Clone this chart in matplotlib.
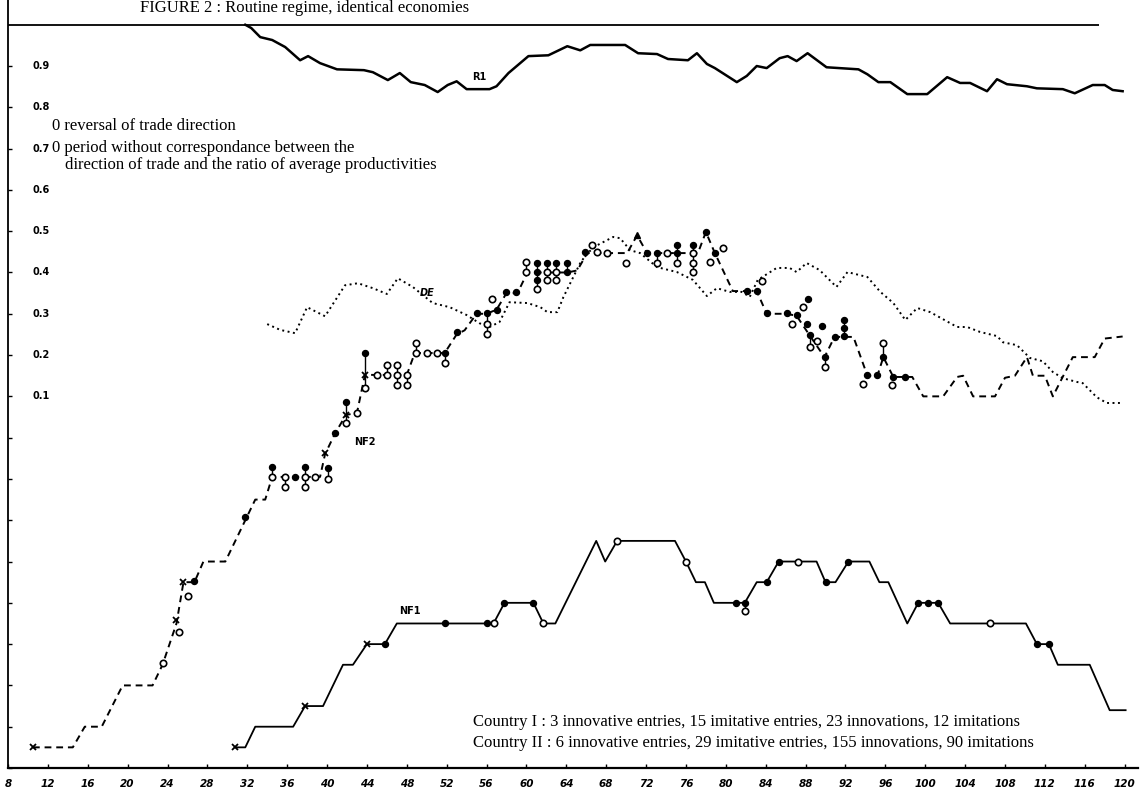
import matplotlib.pyplot as plt

plt.rcParams["font.family"] = ["Liberation Serif", "DejaVu Serif"]

# period axis and the y grid: one unit per tick, 9..17 are labelled 0.1..0.9, 18 is 1.0
x_ticks = list(range(8, 121, 4))
y_ticks = list(range(0, 18))
y_labels = {9: "0.1", 10: "0.2", 11: "0.3", 12: "0.4", 13: "0.5",
            14: "0.6", 15: "0.7", 16: "0.8", 17: "0.9"}

# R1 (solid, top)
r1_t = [31.8, 32.4, 33.3, 34.5, 35.8, 37.3, 38.1, 39.3, 41.0, 43.7, 44.6, 46.1, 47.3, 48.4, 49.8,
        51.1, 52.1, 53.0, 54.0, 56.3, 57.0, 58.2, 60.2, 62.2, 64.1, 65.4, 66.4, 69.9, 71.2, 73.1,
        74.2, 76.2, 77.1, 78.1, 78.9, 81.1, 82.1, 83.1, 84.1, 85.4, 86.2, 87.1, 88.2, 90.1, 93.3,
        94.2, 95.3, 96.5, 98.2, 100.2, 102.2, 103.5, 104.5, 106.2, 107.2, 108.2, 110.2, 111.2,
        113.8, 115.0, 116.8, 118.0, 118.8, 119.8]
r1_u = [18.0, 17.92, 17.70, 17.63, 17.46, 17.14, 17.24, 17.07, 16.92, 16.90, 16.85, 16.66, 16.83,
        16.61, 16.54, 16.37, 16.54, 16.63, 16.44, 16.44, 16.51, 16.83, 17.24, 17.26, 17.48, 17.38,
        17.51, 17.51, 17.31, 17.29, 17.17, 17.14, 17.31, 17.05, 16.95, 16.61, 16.76, 17.00, 16.95,
        17.19, 17.24, 17.12, 17.31, 16.97, 16.92, 16.80, 16.61, 16.61, 16.32, 16.32, 16.73, 16.59,
        16.59, 16.39, 16.68, 16.56, 16.51, 16.46, 16.44, 16.34, 16.54, 16.54, 16.42, 16.39]

# DE (dotted)
de_t = [34.0, 35.3, 36.8, 38.0, 39.8, 41.8, 43.1, 44.6, 46.0, 47.1, 48.6, 50.6, 52.3, 54.0, 55.3,
        56.3, 57.3, 58.3, 60.1, 61.4, 62.1, 63.1, 63.7, 64.7, 65.4, 66.1, 67.1, 68.7, 69.4, 70.4,
        71.4, 73.1, 75.1, 76.7, 78.1, 79.1, 80.4, 81.6, 82.4, 83.2, 85.1, 86.4, 87.1, 88.1, 89.4,
        91.1, 92.2, 94.2, 95.5, 96.8, 98.0, 99.2, 100.5, 103.2, 104.2, 105.5, 107.2, 107.8, 109.2,
        110.5, 111.8, 112.8, 113.8, 115.2, 115.8, 117.2, 118.2, 119.8]
de_u = [10.75, 10.61, 10.53, 11.16, 10.94, 11.69, 11.74, 11.62, 11.48, 11.86, 11.65, 11.26, 11.16,
        10.97, 10.77, 10.68, 10.80, 11.28, 11.26, 11.16, 11.04, 11.04, 11.40, 11.89, 12.23, 12.47,
        12.66, 12.86, 12.83, 12.54, 12.47, 12.13, 12.01, 11.82, 11.43, 11.62, 11.53, 11.53, 11.41,
        11.82, 12.11, 12.11, 12.01, 12.23, 12.06, 11.65, 12.01, 11.89, 11.53, 11.26, 10.85, 11.14,
        11.04, 10.68, 10.68, 10.56, 10.46, 10.31, 10.24, 9.93, 9.85, 9.59, 9.44, 9.35, 9.32, 8.98,
        8.84, 8.84]

# NF2 (dashed)
nf2_t = [10.5, 14.5, 15.7, 17.4, 19.5, 22.5, 23.5, 24.9, 25.6, 26.7, 27.6, 29.8, 31.8, 32.8, 33.8,
         34.5, 39.3, 39.8, 40.8, 41.9, 43.0, 43.8, 48.0, 48.8, 51.8, 53.0, 53.8, 55.0, 56.0, 57.0,
         58.0, 59.1, 60.1, 64.1, 65.1, 66.1, 67.1, 70.1, 71.1, 72.1, 77.2, 78.0, 78.9, 80.7, 82.1,
         83.1, 84.1, 86.1, 87.1, 88.4, 89.9, 90.9, 92.8, 94.2, 95.2, 95.8, 96.8, 98.7, 99.8, 101.8,
         103.2, 103.8, 104.8, 107.0, 108.0, 109.0, 110.2, 110.8, 112.0, 112.8, 114.8, 117.0, 118.0,
         119.8]
nf2_u = [0.5, 0.5, 1.0, 1.0, 2.0, 2.0, 2.5, 3.5, 4.5, 4.5, 5.0, 5.0, 6.0, 6.5, 6.5, 7.05, 7.05,
         7.6, 8.1, 8.55, 8.6, 9.52, 9.52, 10.05, 10.05, 10.5, 10.6, 11.0, 11.0, 11.1, 11.5, 11.5,
         12.0, 12.0, 12.05, 12.47, 12.47, 12.47, 12.9, 12.47, 12.47, 12.98, 12.47, 11.55, 11.55,
         11.55, 11.0, 11.0, 10.95, 10.48, 9.95, 10.44, 10.44, 9.5, 9.5, 9.95, 9.47, 9.47, 9.0, 9.0,
         9.47, 9.5, 9.0, 9.0, 9.45, 9.5, 9.95, 9.5, 9.5, 9.0, 9.95, 9.95, 10.4, 10.45]
nf2_cross_t = [10.5, 24.9, 25.6, 39.8, 41.9, 43.8]
nf2_cross_u = [0.5, 3.58, 4.5, 7.63, 8.55, 9.52]
nf2_filled_t = [26.7, 31.8, 34.5, 36.8, 37.8, 40.1, 40.8, 41.9, 43.8, 51.8, 53.0, 55.0, 56.0, 57.0,
                58.0, 59.0, 61.1, 61.1, 61.1, 62.1, 63.0, 64.1, 64.1, 65.9, 72.1, 73.1, 75.1, 75.1,
                76.7, 78.0, 78.9, 82.1, 83.1, 84.1, 86.1, 87.1, 88.2, 88.1, 88.4, 89.6, 89.9, 90.9,
                91.9, 91.9, 91.9, 94.2, 95.2, 95.8, 96.8, 98.0]
nf2_filled_u = [4.53, 6.08, 7.29, 7.05, 7.29, 7.26, 8.11, 8.86, 10.05, 10.05, 10.56, 11.02, 11.02,
                11.09, 11.53, 11.53, 12.23, 12.0, 11.82, 12.23, 12.23, 12.23, 12.0, 12.49, 12.47,
                12.47, 12.66, 12.47, 12.66, 12.98, 12.47, 11.55, 11.55, 11.02, 11.02, 10.97, 11.35,
                10.75, 10.48, 10.7, 9.95, 10.44, 10.85, 10.65, 10.45, 9.52, 9.52, 9.95, 9.47, 9.47]
nf2_open_t = [23.5, 25.2, 26.1, 34.5, 35.8, 35.8, 37.8, 37.8, 38.8, 40.1, 41.9, 43.0, 43.8, 45.0,
              46.0, 46.0, 47.0, 47.0, 47.0, 48.0, 48.0, 48.9, 48.9, 50.0, 51.0, 51.8, 56.0, 56.0,
              56.5, 60.0, 60.0, 61.1, 62.1, 62.1, 63.0, 63.0, 66.6, 67.1, 68.1, 70.0, 73.1, 74.1,
              75.1, 76.7, 76.7, 76.7, 78.4, 79.7, 83.6, 86.6, 87.7, 88.4, 89.1, 89.9, 93.8, 95.8,
              96.7]
nf2_open_u = [2.54, 3.29, 4.16, 7.05, 7.05, 6.8, 7.05, 6.8, 7.05, 7.0, 8.35, 8.6, 9.2, 9.52, 9.76,
              9.52, 9.76, 9.52, 9.28, 9.52, 9.28, 10.3, 10.05, 10.05, 10.05, 9.8, 10.75, 10.5,
              11.35, 12.25, 12.0, 11.6, 12.0, 11.82, 12.0, 11.82, 12.66, 12.49, 12.47, 12.23,
              12.23, 12.47, 12.23, 12.47, 12.23, 12.01, 12.25, 12.59, 11.8, 10.75, 11.16, 10.2,
              10.35, 9.7, 9.3, 10.3, 9.27]

# NF1 (solid, bottom)
nf1_t = [30.8, 31.8, 32.8, 36.6, 37.8, 39.6, 41.6, 42.6, 44.0, 45.8, 47.0, 56.7, 57.8, 60.7, 61.7,
         62.9, 67.0, 67.9, 69.1, 74.9, 76.0, 77.0, 77.9, 78.8, 81.9, 83.1, 84.1, 85.3, 89.1, 90.0,
         91.0, 92.3, 94.4, 95.4, 96.3, 98.2, 99.3, 101.3, 102.5, 110.1, 111.2, 112.4, 113.3, 116.5,
         118.5, 120.1]
nf1_u = [0.5, 0.5, 1.0, 1.0, 1.5, 1.5, 2.5, 2.5, 3.0, 3.0, 3.5, 3.5, 4.0, 4.0, 3.5, 3.5, 5.5, 5.0,
         5.5, 5.5, 5.0, 4.5, 4.5, 4.0, 4.0, 4.5, 4.5, 5.0, 5.0, 4.5, 4.5, 5.0, 5.0, 4.5, 4.5, 3.5,
         4.0, 4.0, 3.5, 3.5, 3.0, 3.0, 2.5, 2.5, 1.4, 1.4]
nf1_cross_t = [30.8, 37.8, 44.0]
nf1_cross_u = [0.5, 1.5, 3.0]
nf1_filled_t = [45.8, 51.8, 56.0, 57.8, 60.7, 81.0, 81.9, 84.1, 85.3, 90.0, 92.3, 99.3, 100.3,
                101.3, 111.2, 112.4]
nf1_filled_u = [3.0, 3.5, 3.5, 4.0, 4.0, 4.0, 4.0, 4.5, 5.0, 4.5, 5.0, 4.0, 4.0, 4.0, 3.0, 3.0]
nf1_open_t = [56.7, 61.7, 69.1, 76.0, 81.9, 87.2, 106.5]
nf1_open_u = [3.5, 3.5, 5.5, 5.0, 3.8, 5.0, 3.5]


fig = plt.figure(figsize=(11.41, 7.94), dpi=100)
ax = fig.add_axes([0.00701, 0.03275, 0.99, 0.9673])
ax.set_xlim(8, 121.3)
ax.set_ylim(0, 18.6)

for s in ["top", "right"]:
    ax.spines[s].set_visible(False)
ax.spines["left"].set_linewidth(1.3)
ax.spines["bottom"].set_linewidth(1.6)

ax.set_xticks(x_ticks)
ax.set_xticklabels([str(v) for v in x_ticks], fontsize=7.5, fontweight="bold",
                   fontstyle="italic", family="DejaVu Sans")
ax.tick_params(axis="x", direction="in", length=3, width=1, pad=8)
ax.set_yticks(y_ticks)
ax.set_yticklabels([])
ax.tick_params(axis="y", direction="in", length=3, width=1)
for k, lab in y_labels.items():
    ax.text(11.3, k, lab, fontsize=7, fontweight="bold", family="DejaVu Sans",
            ha="center", va="center")

# reference line at 1.0
ax.hlines(18, 8, 117.4, color="black", lw=1.3)

ax.plot(r1_t, r1_u, color="black", lw=1.8)
ax.plot(de_t, de_u, color="black", lw=1.4, linestyle=(0, (1, 1.8)))
ax.plot(nf2_t, nf2_u, color="black", lw=1.4, linestyle=(0, (3.5, 2.5)))
ax.plot(nf1_t, nf1_u, color="black", lw=1.3)


def stems(groups):
    # short vertical bars linking markers stacked at the same period
    by_t = {}
    for ts, us in groups:
        for t, u in zip(ts, us):
            by_t.setdefault(t, []).append(u)
    for t, us in by_t.items():
        if len(us) > 1 and max(us) - min(us) > 0:
            ax.plot([t, t], [min(us), max(us)], color="black", lw=1.0, zorder=3)


stems([(nf2_filled_t, nf2_filled_u), (nf2_open_t, nf2_open_u), (nf2_cross_t, nf2_cross_u)])
stems([(nf1_filled_t, nf1_filled_u), (nf1_open_t, nf1_open_u), (nf1_cross_t, nf1_cross_u)])

for ts, us in [(nf2_filled_t, nf2_filled_u), (nf1_filled_t, nf1_filled_u)]:
    ax.plot(ts, us, "o", ms=4.3, color="black", ls="none", zorder=4)
for ts, us in [(nf2_open_t, nf2_open_u), (nf1_open_t, nf1_open_u)]:
    ax.plot(ts, us, "o", ms=4.6, mfc="white", mec="black", mew=1.2, ls="none", zorder=4)
for ts, us in [(nf2_cross_t, nf2_cross_u), (nf1_cross_t, nf1_cross_u)]:
    ax.plot(ts, us, "x", ms=5, color="black", mew=1.3, ls="none", zorder=4)
ax.plot([71.1], [12.9], "^", ms=4, color="black", zorder=4)

# curve names
lab_kw = dict(fontsize=7, fontweight="bold", family="DejaVu Sans", ha="center", va="center")
ax.text(55.3, 16.74, "R1", **lab_kw)
ax.text(50.0, 11.5, "DE", fontstyle="italic", **lab_kw)
ax.text(43.8, 7.9, "NF2", **lab_kw)
ax.text(48.3, 3.8, "NF1", **lab_kw)

# notes
ax.text(12.4, 15.54, "0 reversal of trade direction", fontsize=12, va="center")
ax.text(12.4, 15.01, "0 period without correspondance between the", fontsize=12,
        va="center")
ax.text(13.7, 14.6, "direction of trade and the ratio of average productivities",
        fontsize=12, va="center")
ax.text(54.6, 1.11, "Country I : 3 innovative entries, 15 imitative entries, 23 innovations, "
        "12 imitations", fontsize=12, va="center")
ax.text(54.6, 0.6, "Country II : 6 innovative entries, 29 imitative entries, 155 innovations, "
        "90 imitations", fontsize=12, va="center")

fig.text(140 / 1141, 1 - 12 / 794, "FIGURE 2 : Routine regime, identical economies",
         fontsize=12, va="baseline")

fig.savefig("out.png", dpi=100)
